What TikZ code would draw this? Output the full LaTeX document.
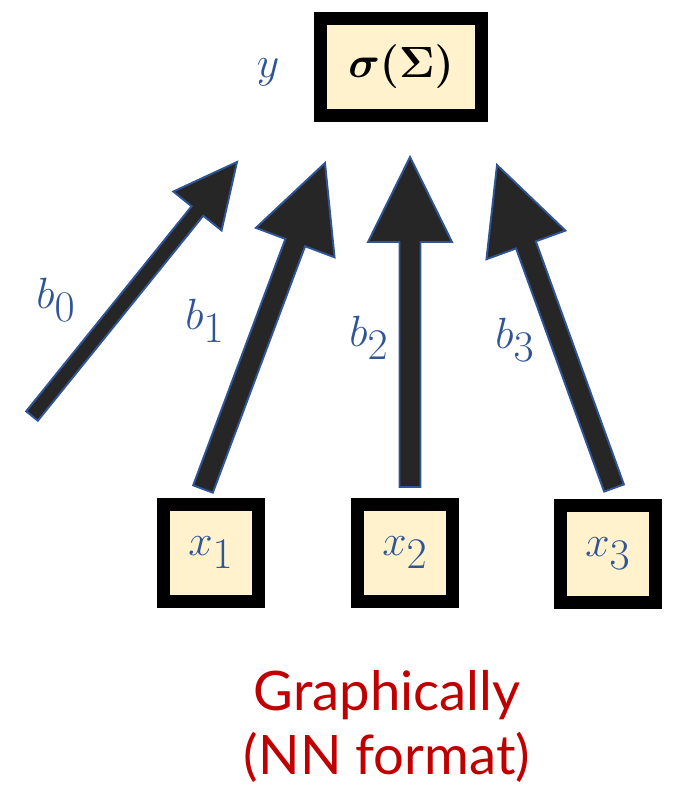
\documentclass[tikz,border=0pt]{standalone}
\usepackage{fontspec}
\setsansfont{Lato}
\usepackage{amsmath}
\usetikzlibrary{calc}
\definecolor{nnblue}{RGB}{47,85,151}
\definecolor{nndark}{RGB}{38,38,38}
\definecolor{nncream}{RGB}{255,242,204}
\definecolor{nnred}{RGB}{192,0,0}

% thick arrow drawn as one outlined polygon: tail, tip, half shaft, half head, head length
\newcommand{\bigarrow}[5]{%
  \coordinate (#2-base) at ($(#2)!#5!(#1)$);
  \draw[fatarrow] ($(#1)!#3!90:(#2)$) -- ($(#2-base)!#3!90:(#2)$)
    -- ($(#2-base)!#4!90:(#2)$) -- (#2)
    -- ($(#2-base)!#4!-90:(#2)$) -- ($(#2-base)!#3!-90:(#2)$)
    -- ($(#1)!#3!-90:(#2)$) -- cycle;
}

\begin{document}
\begin{tikzpicture}[
    x=0.02cm, y=-0.02cm,
    unitbox/.style={draw=black, line width=7.4pt, fill=nncream,
        inner sep=0pt, minimum width=1.9cm, minimum height=1.96cm,
        text=nnblue, font=\fontsize{40}{44}\selectfont},
    varlabel/.style={text=nnblue, inner sep=0pt, font=\fontsize{40}{44}\selectfont},
    fatarrow/.style={draw=nnblue, line width=1.1pt, fill=nndark, line join=miter}
]
\useasboundingbox (0,0) rectangle (679,786);

% output unit
\node[unitbox, minimum width=3.24cm, minimum height=1.94cm, text=black,
      font=\fontsize{27}{30}\selectfont\boldmath] (sum) at (401,67) {$\sigma(\Sigma)$};
\node[varlabel] (y) at (268,72) {$y$};

% inputs
\node[unitbox] (x1) at (211,553) {$x_1$};
\node[unitbox] (x2) at (405,553) {$x_2$};
\node[unitbox] (x3) at (608,554) {$x_3$};

% arrow ends
\coordinate (t0) at (32,416);
\coordinate (h0) at (237,162);
\coordinate (t1) at (203,489);
\coordinate (h1) at (325,163);
\coordinate (t2) at (410,487);
\coordinate (h2) at (410,157);
\coordinate (t3) at (614,488);
\coordinate (h3) at (497,165);

\bigarrow{t0}{h0}{0.15cm}{0.62cm}{1.26cm}
\bigarrow{t1}{h1}{0.21cm}{0.84cm}{1.7cm}
\bigarrow{t2}{h2}{0.21cm}{0.84cm}{1.7cm}
\bigarrow{t3}{h3}{0.21cm}{0.84cm}{1.7cm}

% weights
\node[varlabel] (b0) at (56,300) {$b_0$};
\node[varlabel] (b1) at (205,321) {$b_1$};
\node[varlabel] (b2) at (369,338) {$b_2$};
\node[varlabel] (b3) at (515,340) {$b_3$};

\node[text=nnred, align=center, inner sep=0pt,
      font=\sffamily\fontsize{31}{36.5}\selectfont] (caption) at (387,726)
      {Graphically\\(NN format)};

\end{tikzpicture}
\end{document}
